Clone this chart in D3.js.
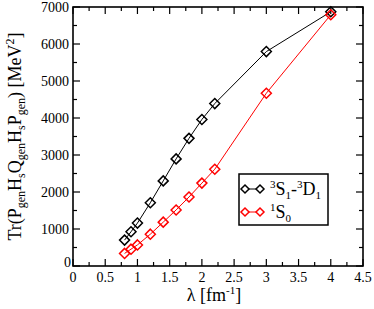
<!DOCTYPE html>
<html>
<head>
<meta charset="utf-8">
<script src="https://cdn.jsdelivr.net/npm/d3@7"></script>
<style>
  body { margin: 0; background: #fff; }
</style>
</head>
<body>
<div class="canvas"></div>
<script>
// data
const lambda = [0.8, 0.9, 1.0, 1.2, 1.4, 1.6, 1.8, 2.0, 2.2, 3.0, 4.0];
const tripletVals = [700, 925, 1160, 1710, 2300, 2895, 3450, 3960, 4390, 5795, 6870];
const singletVals = [340, 455, 570, 860, 1185, 1515, 1865, 2240, 2615, 4670, 6790];
const xTicks = [0, 0.5, 1, 1.5, 2, 2.5, 3, 3.5, 4, 4.5];
const yTicks = [0, 1000, 2000, 3000, 4000, 5000, 6000, 7000];

const dims = { width: 374, height: 309 };
const frame = { left: 73, right: 363, top: 7, bottom: 266 };
const serif = '"Liberation Serif", "Times New Roman", serif';

const svg = d3.select('.canvas')
    .append('svg')
    .attr('width', dims.width)
    .attr('height', dims.height)
    .attr('font-family', serif);

const x = d3.scaleLinear().domain([0, 4.5]).range([frame.left, frame.right]);
const y = d3.scaleLinear().domain([0, 7000]).range([frame.bottom, frame.top]);

// ticks inward on all four sides
const xMinor = d3.range(0, 4.51, 0.25);
const yMinor = d3.range(0, 7001, 500);

const ticks = svg.append('g').attr('stroke', '#000').attr('stroke-width', 1.2);
xMinor.forEach(v => {
    const len = Math.abs((v * 2) % 1) < 1e-6 ? 7 : 4;
    ticks.append('line').attr('x1', x(v)).attr('x2', x(v))
        .attr('y1', frame.bottom).attr('y2', frame.bottom - len);
    ticks.append('line').attr('x1', x(v)).attr('x2', x(v))
        .attr('y1', frame.top).attr('y2', frame.top + len);
});
yMinor.forEach(v => {
    const len = v % 1000 === 0 ? 7 : 4;
    ticks.append('line').attr('y1', y(v)).attr('y2', y(v))
        .attr('x1', frame.left).attr('x2', frame.left + len);
    ticks.append('line').attr('y1', y(v)).attr('y2', y(v))
        .attr('x1', frame.right).attr('x2', frame.right - len);
});

svg.append('rect')
    .attr('x', frame.left).attr('y', frame.top)
    .attr('width', frame.right - frame.left)
    .attr('height', frame.bottom - frame.top)
    .attr('fill', 'none').attr('stroke', '#000').attr('stroke-width', 1.6);

// tick labels
svg.append('g').selectAll('text')
    .data(xTicks).enter().append('text')
    .attr('x', d => x(d)).attr('y', frame.bottom + 16)
    .attr('text-anchor', 'middle').attr('font-size', 14)
    .text(d => d);

svg.append('g').selectAll('text')
    .data(yTicks).enter().append('text')
    .attr('x', d => d === 0 ? frame.left - 2 : frame.left - 4)
    .attr('y', d => d === 0 ? y(d) + 1 : y(d) + 5)
    .attr('text-anchor', 'end').attr('font-size', 14)
    .text(d => d);

// axis titles
const xt = svg.append('text')
    .attr('x', 214).attr('y', 301)
    .attr('text-anchor', 'middle').attr('font-size', 18);
xt.append('tspan').text('λ [fm');
xt.append('tspan').attr('font-size', 11).attr('dy', -7).text('-1');
xt.append('tspan').attr('dy', 7).text(']');

const yt = svg.append('text')
    .attr('transform', `translate(21, ${(frame.top + frame.bottom) / 2}) rotate(-90)`)
    .attr('text-anchor', 'middle').attr('font-size', 18);
const parts = [['Tr(P', null], ['gen', 'sub'], ['H', null], ['s', 'sub'], ['Q', null], ['gen', 'sub'],
    ['H', null], ['s', 'sub'], ['P', null], ['gen', 'sub'], [') [MeV', null], ['2', 'sup'], [']', null]];
let shift = 0;
parts.forEach(([t, k]) => {
    const target = k === 'sub' ? 4 : k === 'sup' ? -7 : 0;
    const ts = yt.append('tspan').attr('dy', target - shift).text(t);
    if (k) ts.attr('font-size', 12);
    shift = target;
});

// series
const series = [
    { name: 'triplet', values: tripletVals, colour: '#000' },
    { name: 'singlet', values: singletVals, colour: '#ff0000' }
];

const line = d3.line().x(d => x(d[0])).y(d => y(d[1]));
const diamond = (cx, cy, r) => `M${cx},${cy - r}L${cx + r},${cy}L${cx},${cy + r}L${cx - r},${cy}Z`;

series.forEach(s => {
    const pts = lambda.map((l, i) => [l, s.values[i]]);
    svg.append('path')
        .attr('d', line(pts))
        .attr('fill', 'none').attr('stroke', s.colour).attr('stroke-width', 1);
    svg.append('g').selectAll('path')
        .data(pts).enter().append('path')
        .attr('d', d => diamond(x(d[0]), y(d[1]), 5))
        .attr('fill', 'none').attr('stroke', s.colour).attr('stroke-width', 1.5);
});

// legend
const legendGroup = svg.append('g');
legendGroup.append('rect')
    .attr('x', 239).attr('y', 174).attr('width', 89).attr('height', 51)
    .attr('fill', '#fff').attr('stroke', '#000').attr('stroke-width', 1.5);

const rows = [189, 212];
series.forEach((s, i) => {
    const ry = rows[i];
    legendGroup.append('line')
        .attr('x1', 245).attr('x2', 260).attr('y1', ry).attr('y2', ry)
        .attr('stroke', s.colour).attr('stroke-width', 1);
    [245, 260].forEach(cx => legendGroup.append('path')
        .attr('d', diamond(cx, ry, 4))
        .attr('fill', '#fff').attr('stroke', s.colour).attr('stroke-width', 1.5));
});

const l1 = legendGroup.append('text').attr('x', 270).attr('y', 195).attr('font-size', 18);
l1.append('tspan').attr('font-size', 11).attr('dy', -7).text('3');
l1.append('tspan').attr('dy', 7).text('S');
l1.append('tspan').attr('font-size', 11).attr('dy', 4).text('1');
l1.append('tspan').attr('dy', -4).text('-');
l1.append('tspan').attr('font-size', 11).attr('dy', -7).text('3');
l1.append('tspan').attr('dy', 7).text('D');
l1.append('tspan').attr('font-size', 11).attr('dy', 4).text('1');

const l2 = legendGroup.append('text').attr('x', 270).attr('y', 218).attr('font-size', 18);
l2.append('tspan').attr('font-size', 11).attr('dy', -7).text('1');
l2.append('tspan').attr('dy', 7).text('S');
l2.append('tspan').attr('font-size', 11).attr('dy', 4).text('0');
</script>
</body>
</html>
